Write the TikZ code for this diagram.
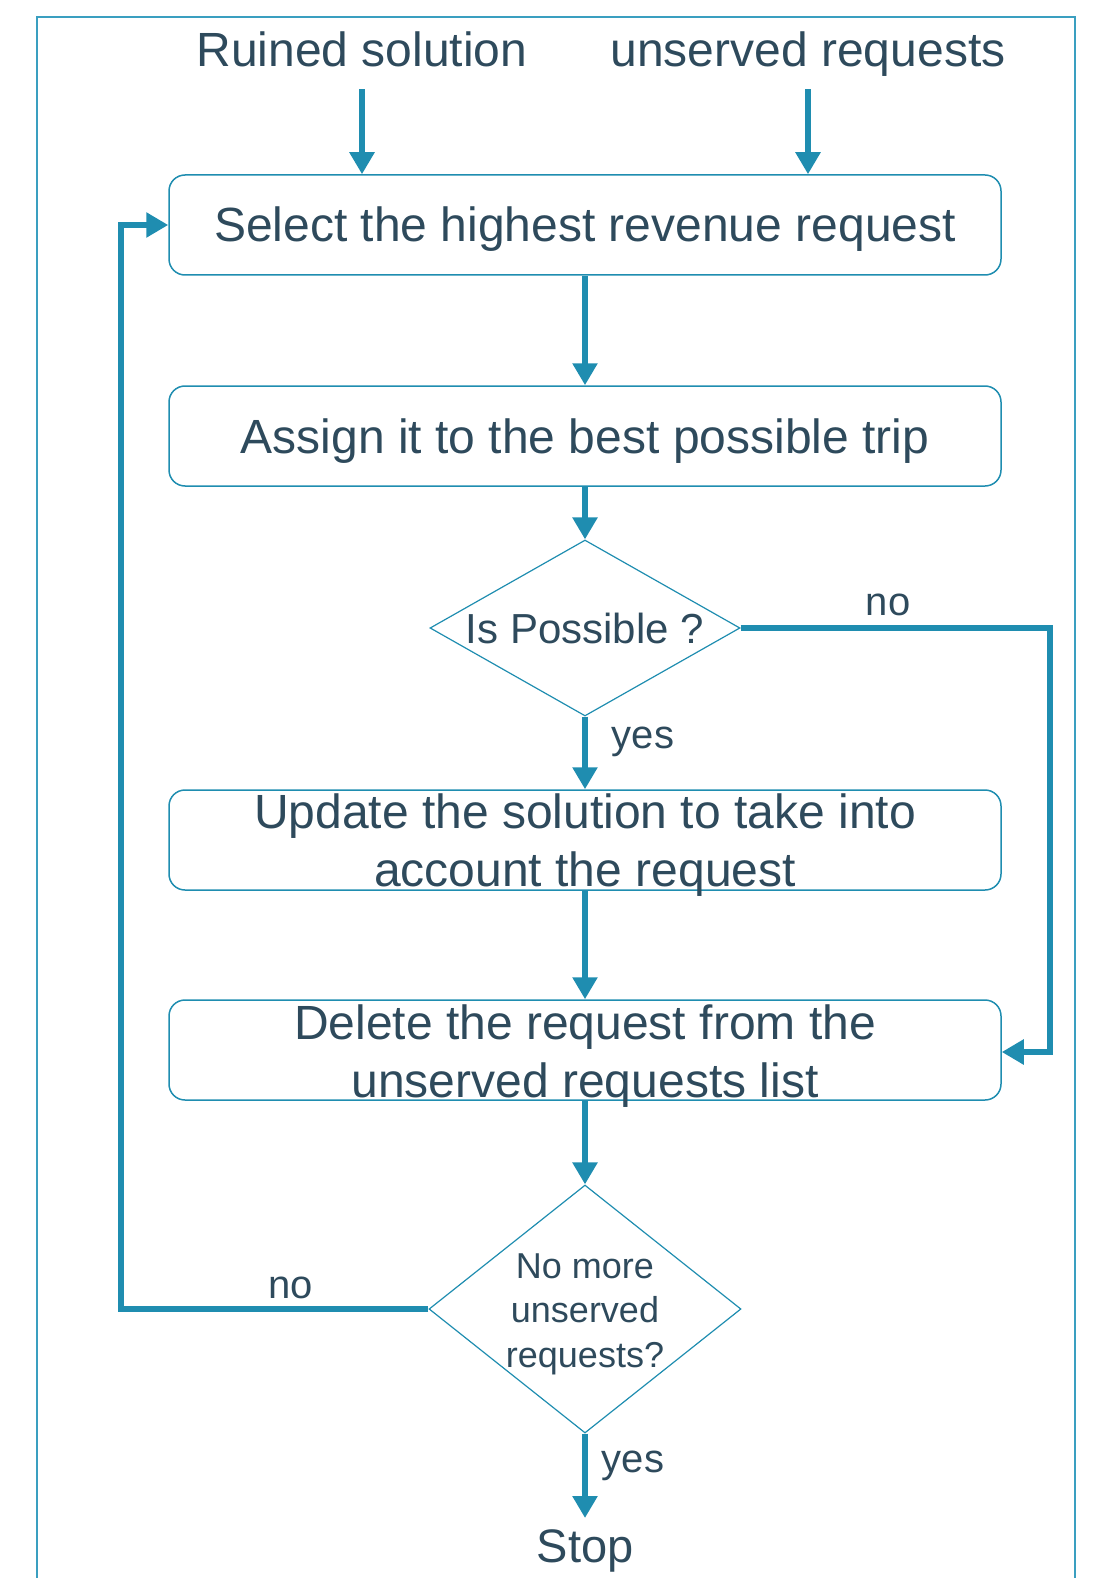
\documentclass[tikz,border=0pt]{standalone}
\usepackage{fontspec}
\setmainfont{Liberation Sans}
\usetikzlibrary{shapes.geometric,arrows.meta}
\definecolor{lineblue}{HTML}{1F8DB0}
\definecolor{framec}{HTML}{3A9FC0}
\definecolor{txt}{HTML}{2E4A5C}
\newcommand\myfs[2]{\fontsize{#1pt}{#2pt}\selectfont}
\newcommand\boxtext[2]{\raisebox{#1}[0pt][0pt]{\begin{tabular}[t]{@{}c@{}}#2\end{tabular}}}
\begin{document}
\begin{tikzpicture}[x=1pt,y=-1pt,
 box/.style={draw=lineblue, line width=1.5pt, rounded corners=16pt, minimum width=832pt, minimum height=100pt, inner sep=0pt, text=txt, font=\myfs{48}{58}},
 dia/.style={draw=lineblue, line width=1.2pt, diamond, inner sep=0pt},
 lbl/.style={text=txt, inner sep=0pt},
 arr/.style={draw=lineblue, line width=6pt, -{Triangle[width=24pt,length=22pt]}, line join=miter},
 toplbl/.style={text=txt, font=\myfs{48}{57}, anchor=base, text depth=10pt, inner xsep=0pt, inner ysep=12pt},
]
\useasboundingbox (0,0) rectangle (1093,1578);
% frame
\draw[framec, line width=1.5pt] (37,1578) -- (37,17) -- (1075,17) -- (1075,1578);

% top labels
\node[toplbl] (rs) at (362,67) {Ruined solution};
\node[toplbl] (ur) at (808,67) {unserved requests};

% boxes
\node[box] (b1) at (585,225) {\boxtext{-17pt}{Select the highest revenue request}};
\node[box] (b2) at (585,436) {\boxtext{-17pt}{Assign it to the best possible trip}};
\node[box] (b3) at (585,840) {\boxtext{12pt}{Update the solution to take into\\account the request}};
\node[box] (b4) at (585,1050) {\boxtext{11pt}{Delete the request from the\\unserved requests list}};

% diamonds
\node[dia, minimum width=310pt, minimum height=176pt] (d1) at (585,628) {};
\node[lbl, font=\myfs{42}{50}] (t1) at (585,628) {Is Possible ?};
\node[dia, minimum width=312pt, minimum height=248pt] (d2) at (585,1309) {};
\node[lbl, font=\myfs{36}{44.5}, align=center] (t2) at (585,1314) {No more\\unserved\\requests?};

% stop
\node[lbl, font=\myfs{47}{56}, anchor=north, text height=34pt, text depth=10pt, inner ysep=10pt] (stop) at (585,1518) {Stop};

% labels
\node[lbl, font=\myfs{40}{48}, anchor=base] (no1) at (888,615) {no};
\node[lbl, font=\myfs{40}{48}, anchor=base] (yes1) at (643,748) {yes};
\node[lbl, font=\myfs{40}{48}, anchor=base] (no2) at (291,1298) {no};
\node[lbl, font=\myfs{40}{48}, anchor=base] (yes2) at (633,1472) {yes};

% connectors
\draw[arr] (rs.south) -- (rs.south |- b1.north);
\draw[arr] (ur.south) -- (ur.south |- b1.north);
\draw[arr] (b1.south) -- (b2.north);
\draw[arr] (b2.south) -- (d1.north);
\draw[arr] (d1.south) -- (b3.north);
\draw[arr] (b3.south) -- (b4.north);
\draw[arr] (b4.south) -- (d2.north);
\draw[arr] (d2.south) -- (stop.north);
\draw[arr] (d1.east) -- (1050,628) -- (1050,1052) -- ([yshift=-2pt]b4.east);
\draw[arr] (d2.west) -- (121,1309) -- (121,225) -- (b1.west);
\end{tikzpicture}
\end{document}
